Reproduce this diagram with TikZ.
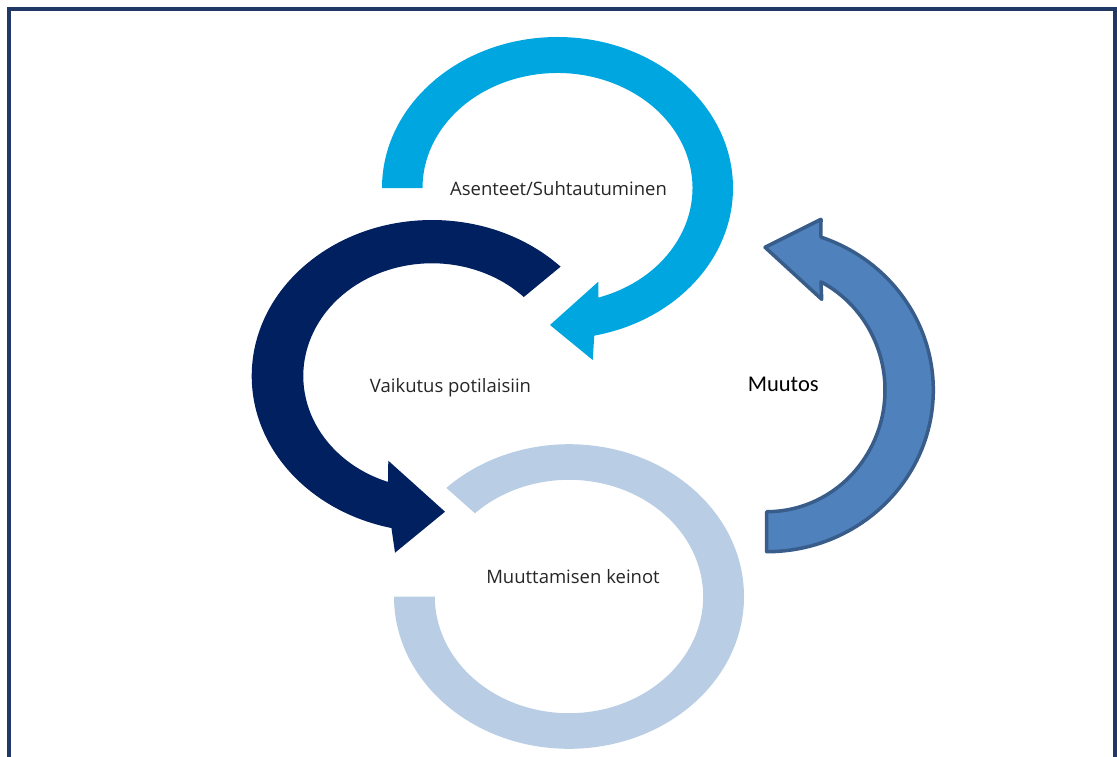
\documentclass[tikz,border=0pt]{standalone}
\usepackage{fontspec}
\setmainfont{Open Sans}
\newfontfamily\muutosfont{Carlito}
\usetikzlibrary{calc}
\definecolor{framec}{HTML}{1F3864}
\definecolor{cyanA}{HTML}{00A6DF}
\definecolor{navyA}{HTML}{002060}
\definecolor{paleA}{HTML}{B9CDE5}
\definecolor{midA}{HTML}{4F81BD}
\definecolor{midS}{HTML}{385D8A}
\definecolor{textc}{HTML}{262626}
\tikzset{
  lbl/.style={inner sep=0pt, anchor=base, text=textc, font=\fontsize{18.5}{22}\selectfont},
  bigl/.style={inner sep=0pt, anchor=base, text=black, font=\muutosfont\fontsize{22.5}{27}\selectfont},
  framebox/.style={draw=framec, line width=4pt},
  muutosarrow/.style={fill=midA, draw=midS, line width=3.5pt, line join=round}
}
\begin{document}
\begin{tikzpicture}[x=1pt,y=1pt]
\useasboundingbox (0,0) rectangle (1117,-756);
\clip (0,0) rectangle (1117,-756);
\fill[white] (0,0) rectangle (1117,-756);
\draw[framebox] (9,-9) rectangle (1115,-780);

% centres
\coordinate (cA) at (557.5,-188);
\coordinate (cB) at (432,-376);
\coordinate (cC) at (569,-596.5);
\coordinate (cD) at (766.7,-390);

% pale ring (Muuttamisen keinot)
\fill[paleA] ($(cC)+(180:175 and 152.3)$)
  arc[start angle=180, end angle=494.5, x radius=175, y radius=152.3]
  -- ($(cC)+(494.5:134.2 and 116.7)$)
  arc[start angle=494.5, end angle=180, x radius=134.2, y radius=116.7]
  -- cycle;

% light blue arrow (Asenteet)
\fill[cyanA] ($(cA)+(180:175.5 and 151)$)
  arc[start angle=180, end angle=-77.9, x radius=175.5, y radius=151]
  -- (592.7,-360) -- (550,-325) -- (598.3,-281.7)
  -- ($(cA)+(-72.4:135 and 115)$)
  arc[start angle=-72.4, end angle=180, x radius=135, y radius=115]
  -- cycle;

% navy arrow (Vaikutus)
\fill[navyA] ($(cB)+(44.5:180.3 and 156)$)
  arc[start angle=44.5, end angle=257, x radius=180.3, y radius=156]
  -- (395,-552.7) -- (445,-511.7) -- (388.3,-460.7)
  -- ($(cB)+(250:128.7 and 112.7)$)
  arc[start angle=250, end angle=44.5, x radius=128.7, y radius=112.7]
  -- cycle;

% mid blue arrow (Muutos)
\filldraw[muutosarrow] ($(cD)+(-90:166.6 and 161.7)$)
  arc[start angle=-90, end angle=71, x radius=166.6, y radius=161.7]
  -- (821,-219.3) -- (765,-247.3) -- (821.7,-299.3)
  -- ($(cD)+(62.7:118.3 and 121.7)$)
  arc[start angle=62.7, end angle=-90, x radius=118.3, y radius=121.7]
  -- cycle;

% labels
\node[lbl] (asen) at (558.5,-195) {Asenteet/Suhtautuminen};
\node[lbl] (vaik) at (450.5,-392.7) {Vaikutus potilaisiin};
\node[lbl] (keino) at (573,-583.3) {Muuttamisen keinot};
\node[bigl] (muut) at (783.3,-391.7) {Muutos};
\end{tikzpicture}
\end{document}
